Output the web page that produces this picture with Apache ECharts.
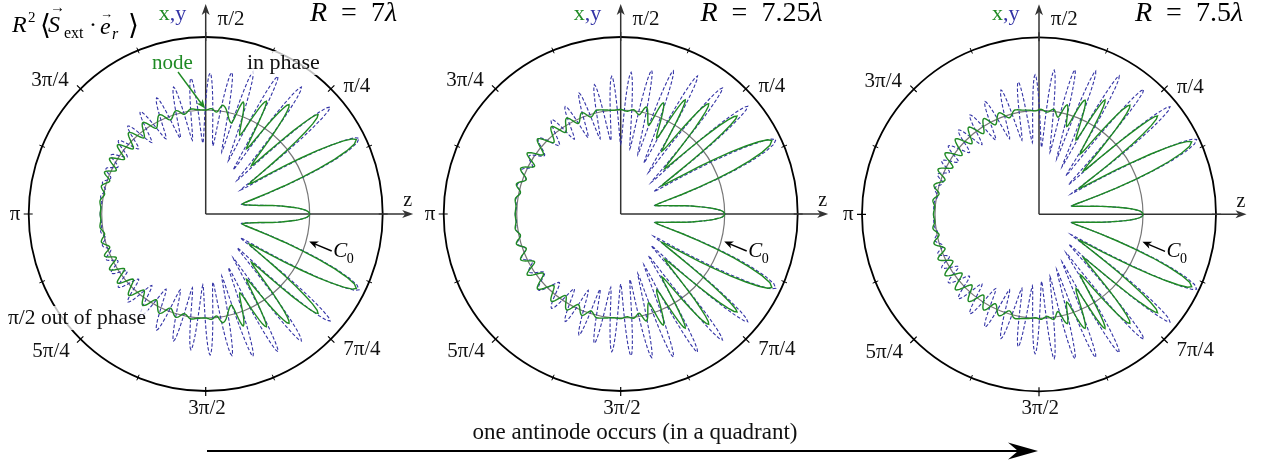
<!DOCTYPE html>
<html><head><meta charset="utf-8">
<script src="https://cdn.jsdelivr.net/npm/echarts@6.0.0/dist/echarts.min.js"></script>
<style>html,body{margin:0;padding:0;background:#fff}#c{width:1269px;height:465px}</style>
</head><body><div id="c"></div>
<script>
// ---------- data: upper half, [angle in degrees, radius]; the lower half is the mirror image ----------
const titles = ['7', '7.25', '7.5'];
const C0 = 104;          // reference circle C0
const R_OUT = 177;       // outer circle value
const angleTicks  = [45, 90, 135, 180, -135, -90, -45];
const angleLabels = ['π/4', 'π/2', '3π/4', 'π', '5π/4', '3π/2', '7π/4'];

const green7 = [[0,104],[1.5,102],[3,96],[6,76],[10,50],[15.3,38],[26.3,168],[34.6,53],[41.5,150],[46.6,66.5],[52.7,137.5],[58,77],[61.7,128],[66.6,86],[71.5,118],[74.2,94.5],[81,110],[84,102.5],[87,105.5],[90,104],[94,104.5],[98,106],[102,102],[106,107.5],[110.5,100.5],[115,109.5],[120,99],[124.5,111],[129,98],[133.5,112],[138,97.5],[142,112],[146,98],[150,111],[154,99.5],[157.5,109.5],[161,101.5],[165,108],[169,103],[173,106.5],[177,105],[180,105.5]];
const blue7 = [[0,104],[1.5,102],[3,96],[6,76],[10,50],[15,37],[26.3,171],[34.5,42],[40.7,164],[47,46],[53,159],[58,52],[62.3,155.5],[67,58],[71.6,150],[75.5,64],[79.5,144],[84,68.5],[88.2,141],[92.3,71],[96.2,136.5],[100.2,75],[104.2,131],[108.5,80],[112.9,126],[117.8,85],[122.6,121.5],[127,89.5],[131.5,117.5],[135.8,93.5],[140,114],[144,97],[148,111.5],[151.8,99.5],[155.5,109.5],[159.3,101.5],[163,108],[166.7,103],[170.5,106.5],[174,104.5],[180,105.5]];

const green725 = [[0,104],[1.5,102],[3,95],[6,74],[10,48],[14.2,35.5],[25.9,168],[34.6,50],[40.1,152],[45.9,63],[51.4,141],[56.8,75],[60.5,131],[64.6,84],[69,119],[72.5,93],[76.5,110],[79.5,101],[83,105],[86.5,103],[90,104.5],[94,104],[98,105],[103,106.5],[107,101.5],[111,108.5],[115,100],[119.5,110],[124,98.5],[128.5,111.5],[133,98],[138,112],[142.5,97.5],[147,111.5],[151,98.5],[155.5,110],[160,100.5],[164,108.5],[168,102.5],[172,106.5],[176,105],[180,105.5]];
const blue725 = [[0,104],[1.5,102],[3,95],[6,74],[10,48],[14.2,35],[25.6,172],[34,40],[40.3,166.5],[46,44],[51.1,162],[56.3,50],[60.9,158],[65.5,56],[69.8,152.5],[74,62],[77.8,147],[82,66],[85.8,142],[90,70],[93.7,138],[97.7,74],[101.5,132],[105.3,78],[109,128],[113,83],[117.3,121],[121.8,88],[126.2,117],[131.8,92],[137.3,112],[142.5,96],[147.8,108.5],[152,100],[155.9,108.5],[160,101],[164,107.5],[168,102.5],[172,106],[176,104.5],[180,105.5]];

const green75 = [[0,104],[1.5,102],[3,95],[6,72],[10,46],[14.3,34],[25.4,169],[32.8,48],[39.7,154],[44.3,62],[50.2,142],[55.7,73],[60,132],[63.5,83],[68,123],[72.5,92],[75.5,113],[79,99],[82,106],[85.5,102.5],[89,105],[92,103.5],[95,104.5],[99,105.5],[103,107],[107,101],[111.5,109],[116,99.5],[120,110.5],[124.5,98],[129,112],[133.5,97.5],[138,112.5],[142.5,97],[147,112],[151.5,98],[156,110.5],[160,100],[164.5,109],[168.5,102],[172.5,107],[176,104.5],[180,105.5]];
const blue75 = [[0,104],[1.5,102],[3,95],[6,72],[10,46],[14.3,33.5],[25.4,174.5],[32.5,38],[39.4,169.5],[45,42],[50,163],[55,47],[59.9,160],[64.2,53],[68.4,154],[72.3,58],[76,149],[80,63],[84,145],[87.8,67],[91.6,139.5],[95.3,72],[98.9,134],[103,76],[107,130],[111.3,81],[115.6,125],[120.2,86],[124.8,121],[129.3,90],[133.7,116.5],[138.3,93],[143,113.5],[147,96],[151.2,111],[154.8,99],[158.5,109],[162,101],[166,107.5],[170,103],[174,105.5],[180,105.5]];

// ---------- layout / style ----------
const GREEN = '#1f8a24', BLUE = '#3434a6';
const FONT = '"Liberation Serif", "DejaVu Serif", serif';
const centers = [[205.7, 214], [620.7, 214], [1039, 214.3]];
const titleX = [353.5, 761.5, 1189];
const labelOffsets = {'45': [26, -2], '90': [25.3, -17.5], '135': [-30.5, -8], '180': [-13.7, 0], '-135': [-29.5, 12.8], '-90': [1.3, 17], '-45': [31, 10.8]};

// whole curve ordered by increasing angle (-180 .. 180)
function fullCurve(upper) {
  const lower = upper.slice(1).reverse().map(([t, r]) => [-t, r]);
  return lower.concat(upper.map(([t, r]) => [t, r]));
}

// smooth (monotone cubic in angle) path through the read extrema, drawn with the polar scales
function makeRender(pts, stroke, width, dash) {
  const n = pts.length, xs = pts.map(q => q[0]), ys = pts.map(q => q[1]);
  const h = [], d = [], m = new Array(n).fill(0);
  for (let k = 0; k < n - 1; k++) { h[k] = xs[k + 1] - xs[k]; d[k] = (ys[k + 1] - ys[k]) / h[k]; }
  for (let k = 1; k < n - 1; k++) {
    if (d[k - 1] * d[k] <= 0) m[k] = 0;
    else m[k] = 3 * (h[k - 1] + h[k]) / ((2 * h[k] + h[k - 1]) / d[k - 1] + (h[k] + 2 * h[k - 1]) / d[k]);
  }
  return function (params, api) {
    if (params.dataIndex !== 0) return null;
    const points = [];
    const N = 10;
    for (let k = 0; k < n - 1; k++) {
      for (let s = 0; s < N; s++) {
        const t = s / N, t2 = t * t, t3 = t2 * t;
        const r = (2 * t3 - 3 * t2 + 1) * ys[k] + (t3 - 2 * t2 + t) * h[k] * m[k] + (-2 * t3 + 3 * t2) * ys[k + 1] + (t3 - t2) * h[k] * m[k + 1];
        points.push(api.coord([r, xs[k] + t * h[k]]));
      }
    }
    points.push(api.coord([ys[n - 1], xs[n - 1]]));
    return {type: 'polyline', silent: true, shape: {points}, style: {stroke, lineWidth: width, fill: 'none', lineDash: dash}};
  };
}

const chart = echarts.init(document.getElementById('c'), null, {renderer: 'canvas'});
const polar = [], angleAxis = [], radiusAxis = [], series = [];
for (let i = 0; i < 6; i++) {
  const main = i < 3;
  polar.push({center: centers[i % 3], radius: 177});
  radiusAxis.push({polarIndex: i, type: 'value', min: 0, max: R_OUT, show: false});
  angleAxis.push({
    polarIndex: i, type: 'value', min: -180, max: 180, interval: 45, startAngle: 180, clockwise: false, silent: true,
    axisLine: {show: main, lineStyle: {color: '#000', width: 1.8}},
    axisTick: {show: true, inside: !main, length: main ? 5 : 4, lineStyle: {color: '#000', width: 1.2}},
    minorTick: {show: true, splitNumber: 2, length: 3, lineStyle: {color: '#000', width: 1}},
    axisLabel: {show: false}, splitLine: {show: false}, minorSplitLine: {show: false}
  });
}
const curves = [[green7, blue7], [green725, blue725], [green75, blue75]];
curves.forEach(([gr, bl], p) => {
  const b = fullCurve(bl), gg = fullCurve(gr);
  series.push({type: 'custom', coordinateSystem: 'polar', polarIndex: p, data: b.map(([t, r]) => [r, t]),
    encode: {radius: 0, angle: 1}, renderItem: makeRender(b, BLUE, 1.1, [3.5, 2]), z: 3, animation: false, silent: true});
  series.push({type: 'custom', coordinateSystem: 'polar', polarIndex: p, data: gg.map(([t, r]) => [r, t]),
    encode: {radius: 0, angle: 1}, renderItem: makeRender(gg, GREEN, 1.4, null), z: 4, animation: false, silent: true});
});
chart.setOption({backgroundColor: '#fff', animation: false, polar, angleAxis, radiusAxis, series});

function px(p, r, a) {
  let pt = null;
  try { pt = chart.convertToPixel({polarIndex: p}, [r, a]); } catch (e) {}
  if (!pt || isNaN(pt[0])) {
    const c = centers[p], rr = r / R_OUT * 177;
    pt = [c[0] + rr * Math.cos(a * Math.PI / 180), c[1] - rr * Math.sin(a * Math.PI / 180)];
  }
  return pt;
}
function T(text, x, y, size, o) {
  o = o || {};
  const st = {text, x, y, fill: o.color || '#111',
    font: (o.italic ? 'italic ' : '') + size + 'px ' + FONT,
    textAlign: o.align || 'left', align: o.align || 'left', textVerticalAlign: 'middle', verticalAlign: 'middle'};
  if (o.rich) st.rich = o.rich;
  if (o.bg) { st.backgroundColor = o.bg; st.padding = [1, 2]; }
  return {type: 'text', z: 20, silent: true, style: st};
}
function L(x1, y1, x2, y2, color, w) {
  return {type: 'line', z: 1, silent: true, shape: {x1, y1, x2, y2}, style: {stroke: color, lineWidth: w}};
}
function head(tip, from, len, half, notch, color) {
  const dx = tip[0] - from[0], dy = tip[1] - from[1], dd = Math.hypot(dx, dy);
  const ux = dx / dd, uy = dy / dd, vx = -uy, vy = ux;
  const b = [tip[0] - ux * len, tip[1] - uy * len];
  return {type: 'polygon', z: 21, silent: true, shape: {points: [tip,
    [b[0] + vx * half, b[1] + vy * half], [tip[0] - ux * (len - notch), tip[1] - uy * (len - notch)],
    [b[0] - vx * half, b[1] - vy * half]]}, style: {fill: color}};
}
function arrow(from, tip, color, w, len, half, notch) {
  const dx = tip[0] - from[0], dy = tip[1] - from[1], dd = Math.hypot(dx, dy);
  const end = [tip[0] - dx / dd * (len - notch), tip[1] - dy / dd * (len - notch)];
  const l = L(from[0], from[1], end[0], end[1], color, w); l.z = 21;
  return [l, head(tip, from, len, half, notch, color)];
}

const g = [];
const richTitle = {i: {fontStyle: 'italic', fontSize: 28, fontFamily: 'Liberation Serif', fill: '#000'}};
for (let p = 0; p < 3; p++) {
  const c = px(p, 0, 0);
  const cx = c[0], cy = c[1];
  const c0pt = px(p, C0, 0);
  g.push({type: 'circle', z: 1, silent: true, shape: {cx, cy, r: c0pt[0] - cx}, style: {fill: 'none', stroke: '#777', lineWidth: 1.2}});
  const topTip = px(p, 210, 90), rightTip = px(p, 207.5, 0);
  g.push(L(cx, cy, topTip[0], topTip[1] + 8, '#333', 1.5));
  g.push(head(topTip, [cx, cy], 11, 4, 3, '#333'));
  g.push(L(cx, cy, rightTip[0] - 8, rightTip[1], '#333', 1.5));
  g.push(head(rightTip, [cx, cy], 11, 4, 3, '#333'));
  g.push(T('z', cx + 197.5, cy - 13, 20, {color: '#111'}));
  angleTicks.forEach((a, k) => {
    const q = px(p, R_OUT, a), o = labelOffsets[String(a)];
    g.push(T(angleLabels[k], q[0] + o[0], q[1] + o[1], 21, {align: 'center'}));
  });
  g.push(T('{i|R}\u2002=\u2002' + titles[p] + '{i|λ}', titleX[p], 14, 28, {align: 'center', color: '#000', rich: richTitle}));
  g.push(T('x', cx - 47, 14, 22, {color: GREEN}));
  g.push(T(',y', cx - 36, 14, 22, {color: BLUE}));
  g.push(...arrow([cx + 126, cy + 37], [cx + 103.5, cy + 27.5], '#000', 1.4, 9, 3.8, 2.5));
  g.push(T('C', cx + 127.5, cy + 37, 21, {italic: true, color: '#000'}));
  g.push(T('0', cx + 141, cy + 45, 14, {color: '#000'}));
}
g.push(T('R', 12, 26, 24, {italic: true, color: '#000'}));
g.push(T('2', 28, 18, 15, {color: '#000'}));
g.push(T('⟨', 40, 27, 28, {color: '#000'}));
g.push(T('S', 48, 26, 24, {italic: true, color: '#000'}));
g.push(T('→', 50, 8, 15, {color: '#000'}));
g.push(T('ext', 64, 34, 16, {color: '#000'}));
g.push(T('·', 89, 26, 24, {color: '#000'}));
g.push(T('e', 100, 28, 24, {italic: true, color: '#000'}));
g.push(T('→', 100, 15, 13, {color: '#000'}));
g.push(T('r', 112, 35, 16, {italic: true, color: '#000'}));
g.push(T('⟩', 128, 27, 28, {color: '#000'}));
g.push(T('node', 152, 63, 21, {color: GREEN}));
g.push(...arrow([178, 72], [205, 108.5], GREEN, 1.4, 9, 3.8, 2.5));
g.push(T('in phase', 245, 63, 22, {color: '#111', bg: 'rgba(255,255,255,0.75)'}));
g.push(T('π/2 out of phase', 6, 318, 21.5, {color: '#111', bg: 'rgba(255,255,255,0.75)'}));
g.push(T('one antinode occurs (in a quadrant)', 635, 433, 23, {align: 'center', color: '#111'}));
g.push(...arrow([207, 451], [1038, 451], '#000', 1.8, 30, 8.5, 10));
chart.setOption({graphic: g});
</script>
</body></html>
